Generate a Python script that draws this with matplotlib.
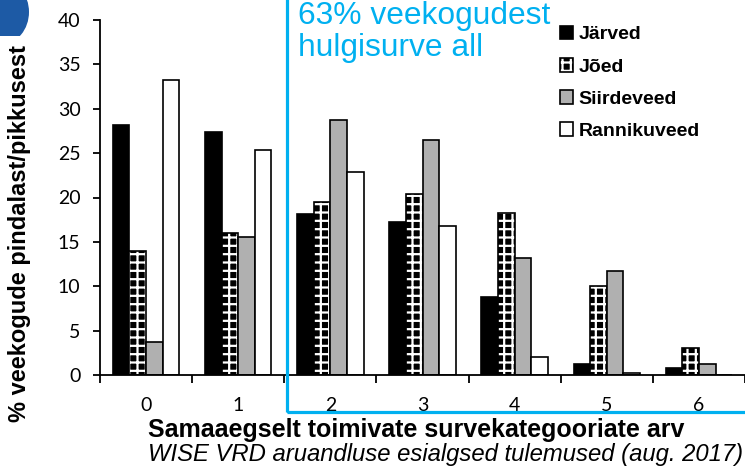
import matplotlib.pyplot as plt
import matplotlib.patches as mpatches
import numpy as np

categories = ["0", "1", "2", "3", "4", "5", "6"]
jarved = [28.2, 27.4, 18.1, 17.2, 8.8, 1.2, 0.8]
joed = [14.0, 16.0, 19.5, 20.4, 18.2, 10.0, 3.0]
siirdeveed = [3.7, 15.5, 28.7, 26.5, 13.2, 11.7, 1.2]
rannikuveed = [33.2, 25.4, 22.9, 16.8, 2.0, 0.2, 0.0]
series_names = ["Järved", "Jõed", "Siirdeveed", "Rannikuveed"]

BLUE = "#00b0f0"
HATCH = "++"

plt.rcParams["hatch.linewidth"] = 1.6

fig = plt.figure(figsize=(7.45, 4.71), dpi=100)
ax = fig.add_axes([100 / 745, (471 - 375) / 471, 645 / 745, 355 / 471])

x = np.arange(len(categories))
w = 0.18
offs = [-1.5 * w, -0.5 * w, 0.5 * w, 1.5 * w]

ax.bar(x + offs[0], jarved, w, color="black", edgecolor="black", linewidth=1.2)
ax.bar(x + offs[1], joed, w, color="black", edgecolor="white", hatch=HATCH, linewidth=0)
ax.bar(x + offs[1], joed, w, fill=False, edgecolor="black", linewidth=1.2)
ax.bar(x + offs[2], siirdeveed, w, color="#b0b0b0", edgecolor="black", linewidth=1.2)
ax.bar(x + offs[3], rannikuveed, w, color="white", edgecolor="black", linewidth=1.2)

ax.set_xlim(-0.5, 6.5)
ax.set_ylim(0, 40)
ax.spines["top"].set_visible(False)
ax.spines["right"].set_visible(False)
ax.spines["left"].set_linewidth(1.3)
ax.spines["bottom"].set_linewidth(1.3)

ax.set_yticks(np.arange(0, 41, 5))
ax.tick_params(axis="y", length=5, width=1.3, pad=9, labelsize=14)
for lab in ax.get_yticklabels():
    lab.set_family("Lato")

ax.set_xticks(np.arange(-0.5, 7, 1))
ax.set_xticklabels([])
ax.tick_params(axis="x", which="major", length=6, width=1.3)
ax.set_xticks(x, minor=True)
ax.set_xticklabels(categories, minor=True, family="Lato", fontsize=14)
ax.tick_params(axis="x", which="minor", length=0, pad=16)

fig.text(20 / 745, 1 - 234 / 471, "% veekogude pindalast/pikkusest", rotation=90,
         ha="center", va="center", fontsize=17, fontweight="bold", family="Liberation Sans")
fig.text(148 / 745, 1 - 437 / 471, "Samaaegselt toimivate survekategooriate arv",
         ha="left", va="baseline", fontsize=18, fontweight="bold", family="Liberation Sans")
fig.text(148 / 745, 1 - 461 / 471, "WISE VRD aruandluse esialgsed tulemused (aug. 2017)",
         ha="left", va="baseline", fontsize=17.2, style="italic", family="Liberation Sans")

# blue highlight box
box = mpatches.Rectangle((287 / 745, 1 - 412 / 471), 0.8, 0.9, transform=fig.transFigure,
                         fill=False, edgecolor=BLUE, linewidth=2.3, clip_on=False)
fig.patches.append(box)
fig.text(298 / 745, 1 - 24 / 471, "63% veekogudest", color=BLUE, fontsize=22.9,
         family="Liberation Sans", va="baseline")
fig.text(298 / 745, 1 - 56 / 471, "hulgisurve all", color=BLUE, fontsize=22.9,
         family="Liberation Sans", va="baseline")

# logo corner
logo = mpatches.Ellipse((2 / 745, 1 - 12 / 471), 54 / 745, 64 / 471, transform=fig.transFigure,
                        facecolor="#1d5aa5", edgecolor="none")
fig.patches.append(logo)
cut = mpatches.Rectangle((0, 1 - 62 / 471), 40 / 745, 26 / 471, transform=fig.transFigure,
                         facecolor="white", edgecolor="none")
fig.patches.append(cut)

h_j = mpatches.Patch(facecolor="black", edgecolor="black", linewidth=1.2)
h_jo = (mpatches.Patch(facecolor="black", edgecolor="white", hatch=HATCH, linewidth=0),
        mpatches.Patch(fill=False, edgecolor="black", linewidth=1.2))
h_s = mpatches.Patch(facecolor="#b0b0b0", edgecolor="black", linewidth=1.2)
h_r = mpatches.Patch(facecolor="white", edgecolor="black", linewidth=1.2)
leg = ax.legend([h_j, h_jo, h_s, h_r], series_names, loc="upper left",
                bbox_to_anchor=(552 / 745, 1 - 18 / 471), bbox_transform=fig.transFigure,
                frameon=False, handlelength=0.7, handleheight=0.7, handletextpad=0.25,
                labelspacing=0.75, borderaxespad=0,
                prop={"family": "Liberation Sans", "weight": "bold", "size": 14})

fig.savefig("out.png", dpi=100)
